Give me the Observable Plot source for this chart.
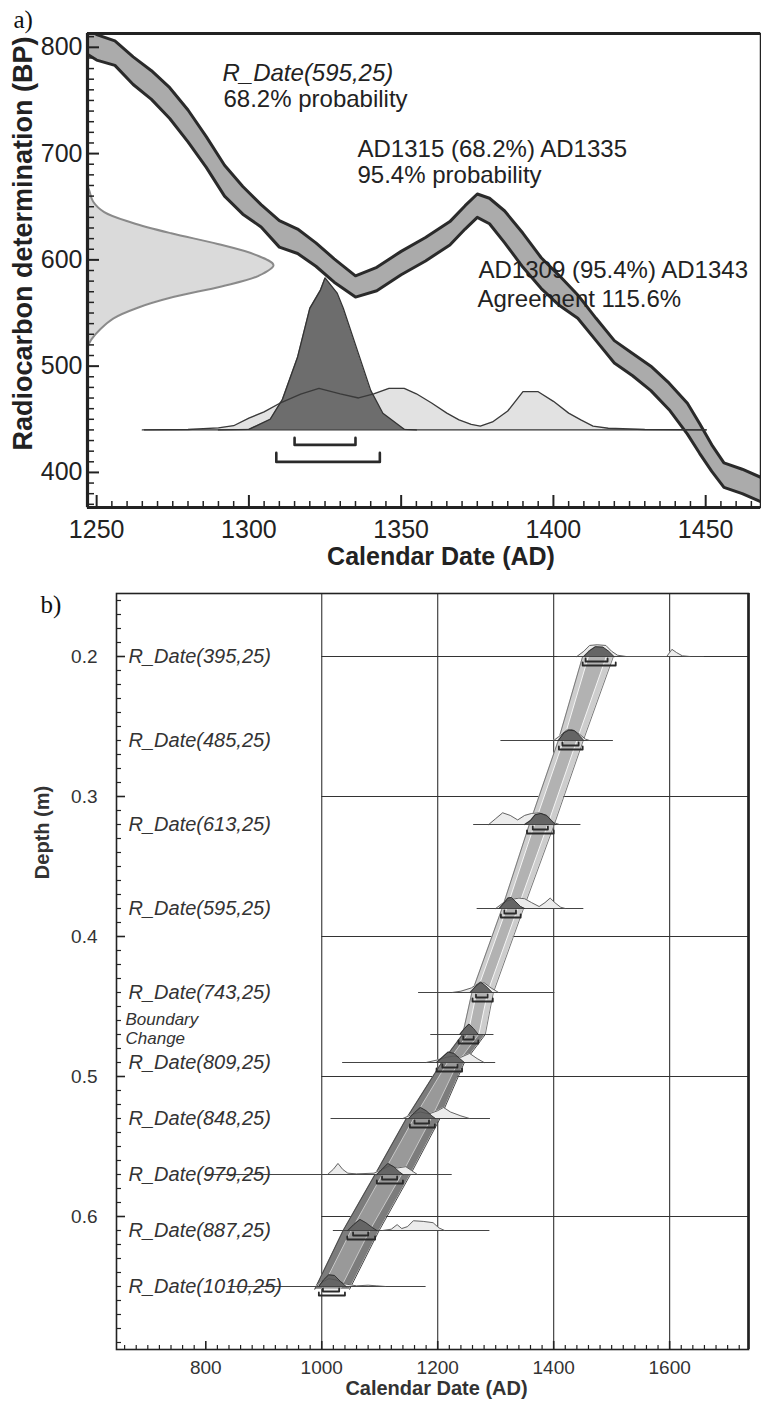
<!DOCTYPE html>
<html><head><meta charset="utf-8">
<script src="https://cdn.jsdelivr.net/npm/d3@7"></script>
<script src="https://cdn.jsdelivr.net/npm/@observablehq/plot@0.6"></script>
<style>
body{margin:0;background:#fff;}
#wrap{width:761px;}
#wrap svg{display:block;}
</style></head><body><div id="wrap"></div>
<script>
// ================= DATA: panel a =================
const calYears = [1240,1250,1256,1262,1268,1274,1280,1286,1292,1298,1304,1310,1316,1322,1328,1335,1342,1350,1358,1366,1371,1375,1379,1384,1390,1396,1402,1408,1414,1420,1426,1432,1438,1444,1448,1452,1456,1462,1470];
const calUpper = [828,812,806,791,778,762,741,716,689,669,652,637,629,616,601,585,593,608,621,636,651,662,658,646,625,602,585,567,545,524,512,500,484,465,446,426,409,403,393];
const calLower = [806,788,783,765,751,733,711,687,660,643,631,612,606,594,579,565,571,586,599,614,629,640,634,616,593,573,557,545,524,503,491,477,459,436,418,401,386,380,370];

const measBP      = [518,525,535,545,555,565,575,585,595,605,615,625,635,645,655,665,670];
const measDensity = [0,0.02,0.07,0.14,0.27,0.46,0.72,0.92,1.0,0.9,0.7,0.45,0.24,0.09,0.03,0.01,0];

const likYears = [1265,1280,1290,1295,1300,1305,1310,1317,1323,1330,1336,1341,1346,1351,1355,1360,1365,1369,1373,1376,1380,1385,1390,1395,1400,1405,1409,1413,1418,1430,1450];
const likRel   = [0,0.01,0.05,0.1,0.28,0.43,0.63,0.85,0.99,0.86,0.76,0.86,0.99,0.99,0.86,0.64,0.4,0.24,0.13,0.09,0.19,0.45,0.91,0.91,0.68,0.4,0.24,0.09,0.04,0.01,0];
const postYears = [1290,1300,1307,1311,1316,1320,1323.5,1325,1329,1331,1336,1340,1344,1351,1355];
const postRel   = [0,0.004,0.07,0.2,0.48,0.8,0.92,1,0.9,0.8,0.5,0.26,0.11,0.004,0];

const rangeFrom = [1315,1309];
const rangeTo   = [1335,1343];
const aBaselineSpan = [1265.7,1450.6];

const aXTicks = [1250,1300,1350,1400,1450];
const aYTicks = [400,500,600,700,800];

// ================= DATA: panel b =================
const sampleNames  = ["R_Date(395,25)","R_Date(485,25)","R_Date(613,25)","R_Date(595,25)","R_Date(743,25)","R_Date(809,25)","R_Date(848,25)","R_Date(979,25)","R_Date(887,25)","R_Date(1010,25)"];
const sampleDepths = [0.20,0.26,0.32,0.38,0.44,0.49,0.53,0.57,0.61,0.65];
const lineFrom = [1407,1309,1262,1268,1167,1036,1016,800,1020,840];
const lineTo   = [1660,1503,1447,1452,1402,1300,1291,1225,1290,1180];
const from68 = [1455,1415,1364,1315,1266,1208,1160,1104,1054,1002];
const to68   = [1493,1443,1390,1335,1286,1234,1185,1130,1080,1030];
const from95 = [1450,1409,1354,1309,1260,1198,1152,1095,1044,995];
const to95   = [1507,1450,1400,1343,1295,1242,1195,1140,1092,1040];

const likB = [
  [[1440,0],[1452,0.4],[1462,0.85],[1475,0.9],[1490,0.85],[1500,0.4],[1510,0.1],[1525,0],[1595,0],[1604,0.55],[1612,0.3],[1622,0.05],[1635,0]],
  [[1400,0],[1412,0.4],[1422,0.8],[1432,0.85],[1444,0.5],[1455,0.1],[1462,0]],
  [[1288,0],[1300,0.45],[1312,0.9],[1325,0.7],[1338,0.35],[1350,0.7],[1362,0.85],[1375,0.9],[1390,0.6],[1400,0.15],[1410,0]],
  [[1300,0],[1315,0.5],[1328,0.7],[1340,0.8],[1350,0.75],[1362,0.45],[1375,0.15],[1385,0.45],[1394,0.8],[1402,0.45],[1412,0.1],[1420,0]],
  [[1225,0],[1240,0.1],[1258,0.35],[1270,0.7],[1280,0.75],[1292,0.35],[1305,0]],
  [[1180,0],[1200,0.2],[1215,0.4],[1228,0.5],[1240,0.4],[1255,0.7],[1268,0.3],[1280,0]],
  [[1140,0],[1155,0.3],[1170,0.5],[1185,0.35],[1200,0.6],[1210,0.85],[1222,0.5],[1240,0.2],[1255,0]],
  [[1010,0],[1020,0.4],[1028,0.85],[1036,0.4],[1045,0.1],[1060,0.05],[1090,0.1],[1105,0.4],[1118,0.7],[1130,0.5],[1145,0.6],[1155,0.3],[1165,0]],
  [[1105,0],[1120,0.1],[1130,0.45],[1138,0.15],[1148,0.3],[1158,0.75],[1175,0.7],[1192,0.6],[1202,0.2],[1212,0]],
  [[990,0],[1000,0.3],[1012,0.6],[1025,0.5],[1040,0.2],[1060,0.05],[1080,0.1],[1095,0.05],[1110,0]]
];
const postB = [
  [[1452,0],[1462,0.45],[1472,0.75],[1485,0.72],[1495,0.4],[1504,0]],
  [[1408,0],[1418,0.6],[1426,0.8],[1436,0.75],[1446,0.3],[1452,0]],
  [[1350,0],[1360,0.3],[1368,0.75],[1378,0.85],[1388,0.7],[1396,0.3],[1403,0]],
  [[1306,0],[1314,0.4],[1321,0.8],[1327,0.85],[1335,0.5],[1343,0.15],[1350,0]],
  [[1256,0],[1265,0.45],[1274,0.8],[1283,0.5],[1294,0]],
  [[1198,0],[1208,0.4],[1218,0.8],[1228,0.7],[1238,0.3],[1246,0]],
  [[1150,0],[1160,0.45],[1170,0.85],[1180,0.6],[1190,0.2],[1196,0]],
  [[1095,0],[1104,0.4],[1114,0.85],[1124,0.6],[1134,0.2],[1140,0]],
  [[1045,0],[1055,0.45],[1066,0.85],[1076,0.6],[1088,0.2],[1095,0]],
  [[995,0],[1003,0.5],[1012,0.9],[1022,0.85],[1032,0.4],[1042,0]]
];

const boundaryLines = ["Boundary","Change"];
const boundaryDepth = 0.47;
const boundarySpan = [1188,1297];
const boundaryPost = [[1238,0],[1246,0.45],[1254,0.8],[1262,0.45],[1270,0]];
const boundary68 = [1244,1262];
const boundary95 = [1236,1270];

const modelDepth = [0.20,0.26,0.32,0.38,0.44,0.47,0.49,0.53,0.57,0.61,0.652];
const model95lo = [1450,1408,1358,1311,1259,1243,1207,1146,1092,1037,988];
const model95hi = [1503,1451,1401,1348,1296,1282,1246,1204,1153,1099,1048];
const model68lo = [1461,1418,1368,1320,1268,1253,1218,1160,1106,1052,1001];
const model68hi = [1492,1441,1391,1339,1287,1272,1236,1190,1139,1084,1033];

const bXTicks = [800,1000,1200,1400,1600];
const bGridX  = [1000,1200,1400,1600];
const bYTicks = [0.2,0.3,0.4,0.5,0.6];

// ================= STYLE / LAYOUT =================
const FONT = "'Liberation Sans', Arial, Helvetica, sans-serif";
const SERIF = "'Liberation Serif', 'Times New Roman', serif";
const INK = "#222";

// ---------- Panel a ----------
const A = {width:761, height:580, ml:87, mr:1, mt:33, mb:73, xd:[1247,1468], yd:[367,813]};
const aW = A.width - A.ml - A.mr, aH = A.height - A.mt - A.mb;
const bpPerPx = (A.yd[1]-A.yd[0]) / aH;
const yrPerPx = (A.xd[1]-A.xd[0]) / aW;
const aBase = 440;

const calData = calYears.map((x,i)=>({x, hi:calUpper[i], lo:calLower[i]}));
const measData = measBP.map((y,i)=>({y, x: A.xd[0] + measDensity[i]*186*yrPerPx}));
const likData = likYears.map((x,i)=>({x, y: aBase + likRel[i]*42*bpPerPx}));
const postData = postYears.map((x,i)=>({x, y: aBase + postRel[i]*152*bpPerPx}));
const brA = [];
rangeFrom.forEach((f,i)=>{
  const off=[15,32][i], rise=[7,9][i];
  const yb = aBase - off*bpPerPx, yt = aBase - (off-rise)*bpPerPx;
  brA.push({k:i,x:f,y:yt},{k:i,x:f,y:yb},{k:i,x:rangeTo[i],y:yb},{k:i,x:rangeTo[i],y:yt});
});
const aXMinor = d3.range(1250,1470,5).filter(v=>!aXTicks.includes(v));
const aYMinor = d3.range(370,813,10).filter(v=>!aYTicks.includes(v));

function noteA(text, px, py, opts={}) {
  return Plot.text([text], {text:d=>d, frameAnchor:"top-left", dx:px-A.ml, dy:py-A.mt,
    textAnchor:"start", lineAnchor:"bottom", fontSize:24, fill:INK, ...opts});
}

const plotA = Plot.plot({
  width:A.width, height:A.height, marginLeft:A.ml, marginRight:A.mr, marginTop:A.mt, marginBottom:A.mb,
  x:{domain:A.xd, axis:null}, y:{domain:A.yd, axis:null},
  style:{fontFamily:FONT, color:INK, background:"#fff", overflow:"visible"},
  marks:[
    Plot.areaX(measData, {y:"y", x1:()=>A.xd[0], x2:"x", fill:"#dadada", curve:"catmull-rom"}),
    Plot.lineX(measData, {y:"y", x:"x", stroke:"#8a8a8a", strokeWidth:2, curve:"catmull-rom"}),
    Plot.areaY(calData, {x:"x", y1:"lo", y2:"hi", fill:"#ababab", clip:true}),
    Plot.lineY(calData, {x:"x", y:"hi", stroke:"#2a2a2a", strokeWidth:3, clip:true}),
    Plot.lineY(calData, {x:"x", y:"lo", stroke:"#2a2a2a", strokeWidth:3, clip:true}),
    Plot.areaY(likData, {x:"x", y1:()=>aBase, y2:"y", fill:"#e2e2e2"}),
    Plot.areaY(postData, {x:"x", y1:()=>aBase, y2:"y", fill:"#6d6d6d"}),
    Plot.lineY(likData, {x:"x", y:"y", stroke:"#3a3a3a", strokeWidth:1.3}),
    Plot.lineY(postData, {x:"x", y:"y", stroke:"#333", strokeWidth:1.3}),
    Plot.ruleY([aBase], {x1:()=>aBaselineSpan[0], x2:()=>aBaselineSpan[1], stroke:"#333", strokeWidth:1.2}),
    Plot.line(brA, {x:"x", y:"y", z:"k", stroke:"#2a2a2a", strokeWidth:2.6}),
    noteA("R_Date(595,25)", 222, 80, {fontStyle:"italic"}),
    noteA("68.2% probability", 223, 106),
    noteA("AD1315 (68.2%) AD1335", 357, 156),
    noteA("95.4% probability", 357, 182),
    noteA("AD1309 (95.4%) AD1343", 478, 277),
    noteA("Agreement 115.6%", 477, 306),
    // frame
    Plot.frame({stroke:"#222", strokeWidth:1.5}),
    Plot.ruleX([A.xd[0]], {stroke:"#222", strokeWidth:3.2}),
    Plot.ruleY([A.yd[0]], {stroke:"#222", strokeWidth:3.2}),
    Plot.ruleY([A.yd[1]], {stroke:"#222", strokeWidth:3.2}),
    // ticks (inward)
    Plot.ruleX(aXMinor, {x:d=>d, insetTop:aH-6, stroke:"#222", strokeWidth:1.5}),
    Plot.ruleX(aXTicks, {x:d=>d, insetTop:aH-12, stroke:"#222", strokeWidth:2}),
    Plot.ruleY(aYMinor, {y:d=>d, insetRight:aW-7, stroke:"#222", strokeWidth:1.5}),
    Plot.ruleY(aYTicks, {y:d=>d, insetRight:aW-12, stroke:"#222", strokeWidth:2}),
    // tick labels
    Plot.text(aXTicks, {x:d=>d, text:d=>String(d), frameAnchor:"bottom", dy:22, textAnchor:"middle", lineAnchor:"middle", fontSize:25, fill:INK}),
    Plot.text(aYTicks, {y:d=>d, text:d=>String(d), frameAnchor:"left", dx:-5, textAnchor:"end", lineAnchor:"middle", fontSize:25, fill:INK}),
    // axis titles
    Plot.text(["Calendar Date (AD)"], {text:d=>d, frameAnchor:"bottom", dx:17, dy:57, textAnchor:"middle", lineAnchor:"bottom", fontSize:25, fontWeight:"bold", fill:INK}),
    Plot.text(["Radiocarbon determination (BP)"], {text:d=>d, frameAnchor:"left", dx:-64, dy:-27, rotate:-90, textAnchor:"middle", lineAnchor:"middle", fontSize:27, fontWeight:"bold", fill:INK}),
    // panel letter
    Plot.text(["a)"], {text:d=>d, frameAnchor:"top-left", dx:13-A.ml, dy:27-A.mt, textAnchor:"start", lineAnchor:"bottom", fontSize:25, fontFamily:SERIF, fill:"#111"})
  ]
});

// ---------- Panel b ----------
const B = {width:761, height:822, ml:116, mr:13, mt:13, mb:53, xd:[646,1736], yd:[0.155,0.695]};
const bW = B.width - B.ml - B.mr, bH = B.height - B.mt - B.mb;
const dpp = (B.yd[1]-B.yd[0]) / bH;

function distRows(list, depths, px) {
  const rows = [];
  list.forEach((pts,k)=>pts.forEach(([x,h])=>rows.push({k, x, y0:depths[k], y:depths[k]-h*px*dpp})));
  return rows;
}
const likRows = distRows(likB, sampleDepths, 13);
const postRows = distRows(postB, sampleDepths, 13).concat(
  boundaryPost.map(([x,h])=>({k:99, x, y0:boundaryDepth, y:boundaryDepth-h*13*dpp})));

const spanRows = sampleDepths.map((d,i)=>({d, a:lineFrom[i], b:lineTo[i]})).concat([{d:boundaryDepth, a:boundarySpan[0], b:boundarySpan[1]}]);

const brB = [];
function addBracket(key, d, f, t, off, rise) {
  const yb = d + off*dpp, yt = d + (off-rise)*dpp;
  brB.push({k:key,x:f,y:yt},{k:key,x:f,y:yb},{k:key,x:t,y:yb},{k:key,x:t,y:yt});
}
sampleDepths.forEach((d,i)=>{ addBracket("i"+i, d, from68[i], to68[i], 5, 3); addBracket("o"+i, d, from95[i], to95[i], 9, 3); });
addBracket("ib", boundaryDepth, boundary68[0], boundary68[1], 5, 3);
addBracket("ob", boundaryDepth, boundary95[0], boundary95[1], 9, 3);

const modelRows = modelDepth.map((d,i)=>({d, lo95:model95lo[i], hi95:model95hi[i], lo68:model68lo[i], hi68:model68hi[i]}));
const upperModel = modelRows.filter(r=>r.d<=boundaryDepth);
const lowerModel = modelRows.filter(r=>r.d>=boundaryDepth);

const bXMinor = d3.range(660,1736,20).filter(v=>!bXTicks.includes(v));
const bYMinor = d3.range(16,70).map(v=>v/100).filter(v=>!bYTicks.some(t=>Math.abs(t-v)<1e-9));

const plotB = Plot.plot({
  width:B.width, height:B.height, marginLeft:B.ml, marginRight:B.mr, marginTop:B.mt, marginBottom:B.mb,
  x:{domain:B.xd, axis:null}, y:{domain:B.yd, reverse:true, axis:null},
  style:{fontFamily:FONT, color:INK, background:"#fff", overflow:"visible"},
  marks:[
    // grid
    Plot.ruleX(bGridX, {x:d=>d, stroke:"#333", strokeWidth:1.1}),
    Plot.ruleY(bYTicks, {y:d=>d, x1:()=>bGridX[0], x2:()=>B.xd[1], stroke:"#333", strokeWidth:1.1}),
    // age-depth model envelope
    Plot.areaX(upperModel, {y:"d", x1:"lo95", x2:"hi95", fill:"#cdcdcd"}),
    Plot.lineX(upperModel, {y:"d", x:"lo95", stroke:"#7a7a7a", strokeWidth:1}),
    Plot.lineX(upperModel, {y:"d", x:"hi95", stroke:"#7a7a7a", strokeWidth:1}),
    Plot.areaX(upperModel, {y:"d", x1:"lo68", x2:"hi68", fill:"#b2b2b2", stroke:"#f5f5f5", strokeWidth:1}),
    Plot.areaX(lowerModel, {y:"d", x1:"lo95", x2:"hi95", fill:"#7c7c7c"}),
    Plot.lineX(lowerModel, {y:"d", x:"lo95", stroke:"#4a4a4a", strokeWidth:1}),
    Plot.lineX(lowerModel, {y:"d", x:"hi95", stroke:"#4a4a4a", strokeWidth:1}),
    Plot.areaX(lowerModel, {y:"d", x1:"lo68", x2:"hi68", fill:"#999", stroke:"#c8c8c8", strokeWidth:1}),
    // distributions
    Plot.ruleY(spanRows, {y:"d", x1:"a", x2:"b", stroke:"#444", strokeWidth:1}),
    Plot.areaY(likRows, {x:"x", y1:"y0", y2:"y", z:"k", fill:"#ececec"}),
    Plot.areaY(postRows, {x:"x", y1:"y0", y2:"y", z:"k", fill:"#656565"}),
    Plot.lineY(likRows, {x:"x", y:"y", z:"k", stroke:"#555", strokeWidth:0.9}),
    Plot.lineY(postRows, {x:"x", y:"y", z:"k", stroke:"#2a2a2a", strokeWidth:0.9}),
    Plot.line(brB, {x:"x", y:"y", z:"k", stroke:"#2a2a2a", strokeWidth:1.8}),
    // sample labels
    Plot.text(sampleDepths, {y:d=>d, text:(d,i)=>sampleNames[i], frameAnchor:"left", dx:12, textAnchor:"start", lineAnchor:"middle", fontSize:20, fontStyle:"italic", fill:"#333"}),
    Plot.text([boundaryLines.join("\n")], {text:d=>d, y:()=>boundaryDepth, frameAnchor:"left", dx:9, dy:-6, textAnchor:"start", lineAnchor:"middle", lineHeight:1.12, fontSize:17, fontStyle:"italic", fill:"#333"}),
    // frame
    Plot.frame({stroke:"#222", strokeWidth:1.6}),
    Plot.ruleX([B.xd[1]], {stroke:"#222", strokeWidth:2.6}),
    // ticks (inward)
    Plot.ruleX(bXMinor, {x:d=>d, insetTop:bH-4, stroke:"#222", strokeWidth:1.2}),
    Plot.ruleX(bXTicks, {x:d=>d, insetTop:bH-8, stroke:"#222", strokeWidth:1.6}),
    Plot.ruleY(bYMinor, {y:d=>d, insetRight:bW-5, stroke:"#222", strokeWidth:1.2}),
    Plot.ruleY(bYTicks, {y:d=>d, insetRight:bW-9, stroke:"#222", strokeWidth:1.6}),
    // tick labels
    Plot.text(bXTicks, {x:d=>d, text:d=>String(d), frameAnchor:"bottom", dy:18, textAnchor:"middle", lineAnchor:"middle", fontSize:19, fill:"#333"}),
    Plot.text(bYTicks, {y:d=>d, text:d=>d.toFixed(1), frameAnchor:"left", dx:-19, textAnchor:"end", lineAnchor:"middle", fontSize:19, fill:"#333"}),
    // axis titles
    Plot.text(["Calendar Date (AD)"], {text:d=>d, frameAnchor:"bottom", dx:4, dy:45, textAnchor:"middle", lineAnchor:"bottom", fontSize:20, fontWeight:"bold", fill:"#333"}),
    Plot.text(["Depth (m)"], {text:d=>d, frameAnchor:"left", dx:-74, dy:-139, rotate:-90, textAnchor:"middle", lineAnchor:"middle", fontSize:20, fontWeight:"bold", fill:"#333"}),
    Plot.text(["b)"], {text:d=>d, frameAnchor:"top-left", dx:40-B.ml, dy:32-B.mt, textAnchor:"start", lineAnchor:"bottom", fontSize:25, fontFamily:SERIF, fill:"#111"})
  ]
});

const wrap = document.getElementById("wrap");
wrap.appendChild(plotA);
wrap.appendChild(plotB);
</script>
</body></html>
